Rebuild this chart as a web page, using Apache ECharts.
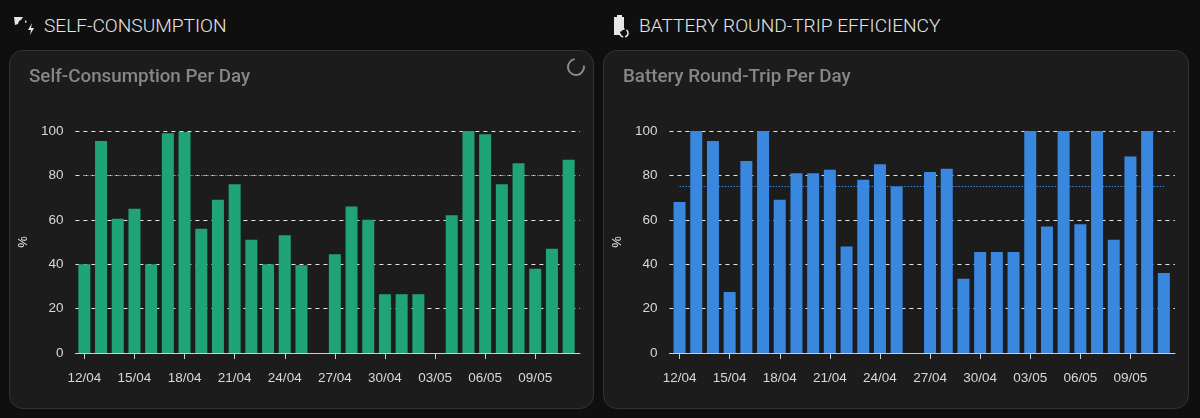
<!DOCTYPE html>
<html>
<head>
<meta charset="utf-8">
<title>Self-consumption and battery efficiency</title>
<script src="https://cdn.jsdelivr.net/npm/echarts@6/dist/echarts.min.js"></script>
<style>
html, body { margin: 0; padding: 0; width: 1200px; height: 418px; overflow: hidden; background: #0f0f0f; font-family: Roboto, sans-serif; }
.head { position: absolute; top: 14px; height: 24px; line-height: 24px; font-size: 19.1px; font-weight: 300; color: #e6e6e6; white-space: nowrap; }
.head svg { position: absolute; top: 2px; left: -30px; }
.card { position: absolute; top: 50px; height: 359px; background: #1c1c1c; border: 1px solid #333; border-radius: 14px; box-sizing: border-box; }
.card h3 { position: absolute; left: 19px; top: 13px; margin: 0; font-size: 18.8px; line-height: 24px; font-weight: 500; color: #878787; white-space: nowrap; z-index: 2; }
.chart { position: absolute; left: -1px; top: -1px; width: 585px; height: 358px; }
.spin { position: absolute; right: 8px; top: 7px; width: 14px; height: 14px; border: 2.5px solid #8a8a8a; border-top-color: transparent; border-radius: 50%; transform: rotate(35deg); z-index: 2; }
</style>
</head>
<body>
<div class="head" style="left:44px">
  <svg width="22" height="20" viewBox="0 0 22 20"><path d="M0 1h9l-2 3-2 1-1 3-3 1z" fill="#e6e6e6"/><path d="M11 4l2 2-2 1zM18 7l-4 7h3l-1 5 4-7h-3z" fill="#e6e6e6"/></svg>
  SELF-CONSUMPTION
</div>
<div class="head" style="left:639px">
  <svg width="22" height="24" viewBox="0 0 22 24" style="left:-27px;top:1px"><path d="M5 0h5v2h2v18H2V2h3z" fill="#e6e6e6"/><circle cx="12" cy="18" r="4" fill="#0f0f0f" stroke="#e6e6e6" stroke-width="1.5" stroke-dasharray="5 2"/></svg>
  BATTERY ROUND-TRIP EFFICIENCY
</div>
<div class="card" style="left:9px;width:585px">
  <h3>Self-Consumption Per Day</h3>
  <div class="spin"></div>
  <div class="chart" id="chart1"></div>
</div>
<div class="card" style="left:603px;width:586px">
  <h3>Battery Round-Trip Per Day</h3>
  <div class="chart" id="chart2"></div>
</div>
<script>
var days = ['12/04','13/04','14/04','15/04','16/04','17/04','18/04','19/04','20/04','21/04','22/04','23/04','24/04','25/04','26/04','27/04','28/04','29/04','30/04','01/05','02/05','03/05','04/05','05/05','06/05','07/05','08/05','09/05','10/05','11/05'];
var selfConsumption = [40,95.5,60.5,65,40,99,99.5,56,69,76,51,40,53,39.5,0,44.5,66,60,26.5,26.5,26.5,0,62,100,98.5,76,85.5,38,47,87];
var roundTrip = [68,100,95.5,27.5,86.5,100,69,81,81,82.5,48,78,85,75,0,81.5,83,33.5,45.5,45.5,45.5,100,57,100,58,100,51,88.5,100,36];
var selfAverage = 80;
var roundTripAverage = 75;
var yTicks = [0,20,40,60,80,100];

function drawChart(id, values, average, color, lineColor, wideLeft, barLeft) {
    var myChart = echarts.init(document.getElementById(id));
    var option = {
        animation: false,
        // wide grid only carries the y axis, the dashed lines run past the bars
        grid: [
            { left: wideLeft, width: 508, top: 81, height: 222 },
            { left: barLeft, width: 501, top: 81, height: 222 }
        ],
        xAxis: [{
            gridIndex: 0,
            type: 'category',
            data: days,
            axisLine: { show: true, lineStyle: { color: '#cfcfcf', width: 1 } },
            axisTick: { show: false },
            axisLabel: { show: false }
        }, {
            gridIndex: 1,
            type: 'category',
            data: days,
            axisLine: { show: false },
            axisTick: { show: true, interval: 2, alignWithLabel: true, length: 6, lineStyle: { color: '#cfcfcf' } },
            axisLabel: { interval: 2, margin: 18, color: '#d8d8d8', fontSize: 13.5, fontFamily: 'Liberation Sans' }
        }],
        yAxis: [{
            gridIndex: 0,
            type: 'value',
            min: yTicks[0],
            max: yTicks[yTicks.length - 1],
            interval: 20,
            name: '%',
            nameLocation: 'middle',
            nameGap: 44,
            nameRotate: 90,
            nameTextStyle: { color: '#e8e8e8', fontSize: 13, fontFamily: 'Liberation Sans' },
            axisLine: { show: false },
            axisTick: { show: false },
            axisLabel: { margin: 12, color: '#d8d8d8', fontSize: 13.5, fontFamily: 'Liberation Sans' },
            splitLine: { lineStyle: { color: '#e4e4e4', type: [4, 4], width: 1 } }
        }, {
            gridIndex: 1,
            type: 'value',
            min: yTicks[0],
            max: yTicks[yTicks.length - 1],
            interval: 20,
            show: false,
            splitLine: { show: false }
        }],
        series: [{
            type: 'bar',
            xAxisIndex: 1,
            yAxisIndex: 1,
            barWidth: 12,
            data: values,
            itemStyle: { color: color },
            markLine: {
                silent: true,
                symbol: 'none',
                label: { show: false },
                lineStyle: { color: lineColor, type: [1.5, 1.5], width: 1, opacity: 1 },
                data: [[{ coord: [days[0], average] }, { coord: [days[days.length - 1], average] }]]
            }
        }]
    };
    myChart.setOption(option);
    window.addEventListener("resize", function () {
        myChart.resize();
    });
}

drawChart('chart1', selfConsumption, selfAverage, '#1fa377', '#2f9c78', 63, 67);
drawChart('chart2', roundTrip, roundTripAverage, '#3a87e0', '#3a87e0', 64, 68.2);
</script>
</body>
</html>
